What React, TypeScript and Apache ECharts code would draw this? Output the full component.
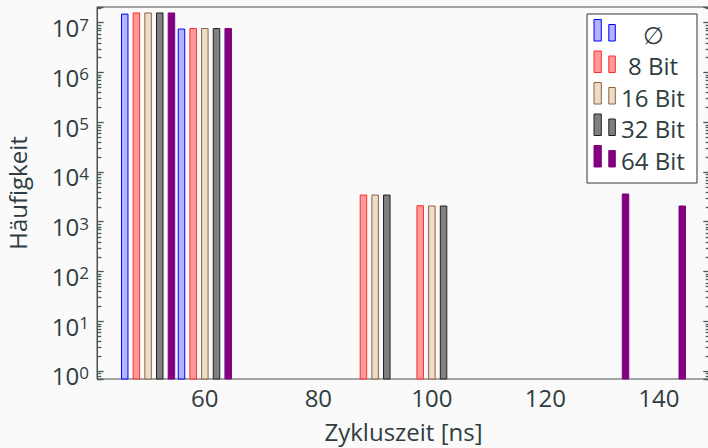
import React, { useEffect, useRef } from 'react';
import * as echarts from 'echarts';

// ---- data ----
const SERIES_NAMES = ['∅', '8 Bit', '16 Bit', '32 Bit', '64 Bit'];
const CYCLE_TIMES = [50, 60, 90, 100, 130, 140];
const VALUES_AVG = [1.49e7, 7.46e6, null, null, null, null];
const VALUES_8 = [1.57e7, 7.64e6, 3440, 2100, null, null];
const VALUES_16 = [1.57e7, 7.64e6, 3440, 2070, null, null];
const VALUES_32 = [1.57e7, 7.64e6, 3440, 2070, null, null];
const VALUES_64 = [1.57e7, 7.64e6, null, null, 3610, 2070];
const X_TICKS = [60, 80, 100, 120, 140];
const Y_EXPONENTS = [-1, 0, 1, 2, 3, 4, 5, 6, 7];
const MINOR_MULTIPLIERS = [2, 3, 4, 5, 6, 7, 8, 9];

// ---- style ----
const X_MIN = 41;
const X_MAX = 149;
const Y_MIN = 0.69;
const Y_MAX = 2.07e7;
const FILLS = ['#b3b3ff', '#ff9a9a', '#eedcc8', '#808080', '#800080'];
const STROKES = ['#0000ff', '#ff2a2a', '#8b6240', '#202020', '#800080'];
const SLOT = 11.68;
const BAR_W = 6.5;
const TEXT = '#2f3d40';
const AXIS = '#465153';
const TICK = '#4e585a';
const TICK_W = 1.3;
const FONT = '"Open Sans", "Noto Sans", sans-serif';
const MAJOR_LEN = 6.7;
const MINOR_LEN = 4.3;

export default function App() {
  const ref = useRef<HTMLDivElement>(null);
  useEffect(() => {
    const chart = echarts.init(ref.current!, null, { renderer: 'svg' });
    const seriesValues = [VALUES_AVG, VALUES_8, VALUES_16, VALUES_32, VALUES_64];
    const barSeries: any[] = seriesValues.map((vals, si) => ({
      type: 'custom',
      name: SERIES_NAMES[si],
      encode: { x: 0, y: 1 },
      silent: true,
      data: CYCLE_TIMES.map((t, i) => (vals[i] == null ? null : [t, vals[i]])).filter((d) => d !== null),
      renderItem: (params: any, api: any) => {
        const top = api.coord([api.value(0), api.value(1)]);
        const cs = params.coordSys;
        const bottom = cs.y + cs.height;
        const cx = top[0] + (si - 2) * SLOT;
        return {
          type: 'rect',
          shape: { x: cx - BAR_W / 2, y: top[1], width: BAR_W, height: bottom - top[1] },
          style: { fill: FILLS[si], stroke: STROKES[si], lineWidth: 1 },
        };
      },
    }));

    // minor log ticks at 2..9 x 10^n on both sides
    const minorData: number[][] = [];
    Y_EXPONENTS.forEach((e) => {
      const p = Math.pow(10, e);
      MINOR_MULTIPLIERS.forEach((m) => {
        const v = m * p;
        if (v > Y_MIN && v < Y_MAX) minorData.push([X_MIN, v]);
      });
    });
    const minorSeries = {
      type: 'custom',
      encode: { x: 0, y: 1 },
      silent: true,
      data: minorData,
      renderItem: (params: any, api: any) => {
        const left = api.coord([X_MIN, api.value(1)]);
        const right = api.coord([X_MAX, api.value(1)]);
        const y = Math.round(left[1]) + 0.5;
        return {
          type: 'group',
          children: [
            { type: 'line', shape: { x1: left[0], y1: y, x2: left[0] + MINOR_LEN, y2: y }, style: { stroke: TICK, lineWidth: TICK_W } },
            { type: 'line', shape: { x1: right[0] - MINOR_LEN, y1: y, x2: right[0], y2: y }, style: { stroke: TICK, lineWidth: TICK_W } },
          ],
        };
      },
    };

    const yLabelFormatter = (v: number) => {
      const l = Math.log10(v);
      const e = Math.round(l);
      if (Math.abs(l - e) > 1e-6) return '';
      return '{b|10}{s|' + e + '}';
    };

    // legend box
    const rowY = [34, 65.5, 97, 128.5, 160];
    const legendChildren: any[] = [
      { type: 'rect', shape: { x: 587, y: 14, width: 110, height: 169 }, style: { fill: '#ffffff', stroke: '#333333', lineWidth: 1 } },
    ];
    SERIES_NAMES.forEach((name, i) => {
      const c = rowY[i];
      legendChildren.push(
        { type: 'rect', shape: { x: 594, y: c - 14.5, width: 7.3, height: 21.5 }, style: { fill: FILLS[i], stroke: STROKES[i], lineWidth: 1 } },
        { type: 'rect', shape: { x: 608.8, y: c - 9.5, width: 6.5, height: 16.5 }, style: { fill: FILLS[i], stroke: STROKES[i], lineWidth: 1 } },
        { type: 'text', x: 653, y: c, style: { text: name, fill: TEXT, fontSize: 24, fontFamily: FONT, textAlign: 'center', textVerticalAlign: 'middle' } }
      );
    });

    const tickStyle = { show: true, inside: true, length: MAJOR_LEN, lineStyle: { color: TICK, width: TICK_W } };

    chart.setOption({
      animation: false,
      backgroundColor: '#fafafa',
      textStyle: { fontFamily: FONT },
      grid: {
        left: 97, right: 2, top: 7, bottom: 69,
        outerBoundsMode: 'none',
        containLabel: false,
        show: true, borderColor: AXIS, borderWidth: 1, backgroundColor: 'transparent',
      },
      xAxis: {
        type: 'value',
        min: X_MIN,
        max: X_MAX,
        splitNumber: 5,
        axisLine: { show: false },
        axisTick: { show: false },
        splitLine: { show: false },
        axisLabel: {
          color: TEXT,
          fontSize: 24,
          fontFamily: FONT,
          margin: 6,
          formatter: (v: number) => (X_TICKS.includes(v) ? String(v) : ''),
        },
        name: 'Zykluszeit [ns]',
        nameLocation: 'middle',
        nameGap: 40,
        nameTextStyle: { color: TEXT, fontSize: 24, fontFamily: FONT },
      },
      yAxis: [
        {
          type: 'log',
          min: Y_MIN,
          max: Y_MAX,
          logBase: 10,
          axisLine: { show: true, lineStyle: { color: AXIS, width: 1 } },
          axisTick: tickStyle,
          splitLine: { show: false },
          axisLabel: {
            margin: 8,
            padding: [10, 0, 0, 0],
            formatter: yLabelFormatter,
            rich: {
              b: { fontSize: 24, fontFamily: FONT, color: TEXT, lineHeight: 24, verticalAlign: 'bottom' },
              s: { fontSize: 17, fontFamily: FONT, color: TEXT, lineHeight: 20, verticalAlign: 'top', padding: [0, 0, 20, 0] },
            },
          },
          name: 'Häufigkeit',
          nameLocation: 'middle',
          nameGap: 68,
          nameTextStyle: { color: TEXT, fontSize: 24, fontFamily: FONT },
        },
        {
          type: 'log',
          min: Y_MIN,
          max: Y_MAX,
          logBase: 10,
          position: 'right',
          axisLine: { show: true, lineStyle: { color: AXIS, width: 1 } },
          axisTick: tickStyle,
          splitLine: { show: false },
          axisLabel: { show: false },
        },
      ],
      graphic: [{ type: 'group', children: legendChildren }],
      series: [...barSeries, minorSeries],
    });
    return () => chart.dispose();
  }, []);
  return (
    <div style={{ position: 'absolute', left: 0, top: 0, width: 708, height: 448, overflow: 'hidden', background: '#fafafa' }}>
      <div ref={ref} style={{ width: 712, height: 448 }} />
    </div>
  );
}
